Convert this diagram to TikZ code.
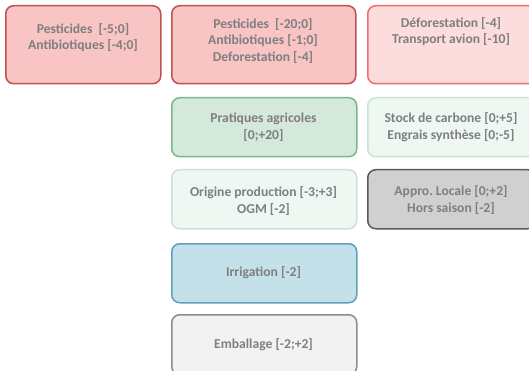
\documentclass[tikz,border=0pt]{standalone}
\usepackage{fontspec}
\setmainfont{Carlito}
\frenchspacing
\definecolor{txtgray}{RGB}{127,127,127}
\definecolor{redfill}{RGB}{248,196,196}
\definecolor{reddraw}{RGB}{192,80,82}
\definecolor{pinkfill}{RGB}{252,220,220}
\definecolor{pinkdraw}{RGB}{240,108,110}
\definecolor{greenfill}{RGB}{213,232,220}
\definecolor{greendraw}{RGB}{122,182,142}
\definecolor{palefill}{RGB}{238,247,241}
\definecolor{paledraw}{RGB}{198,230,210}
\definecolor{grayfill}{RGB}{208,208,208}
\definecolor{graydraw}{RGB}{90,90,90}
\definecolor{bluefill}{RGB}{196,224,232}
\definecolor{bluedraw}{RGB}{92,162,190}
\definecolor{wrapfill}{RGB}{242,242,242}
\definecolor{wrapdraw}{RGB}{140,140,140}
\tikzset{
  box/.style={rectangle,rounded corners=8pt,line width=1.5pt,anchor=north west,inner sep=0pt},
  txt/.style={font=\fontsize{13.6}{16.5}\selectfont\bfseries,text=txtgray,align=center,inner sep=0pt},
}

\begin{document}
\begin{tikzpicture}[x=1pt,y=-1pt,line join=round]
  \def\hA{78}
  \def\hB{59}
  \useasboundingbox (0,0) rectangle (529,371);
  \clip (0,0) rectangle (529,371);
  % first row
  \node[box,fill=redfill,draw=reddraw,minimum width=155pt,minimum height=\hA pt] (pestbio) at (5,5) {};
  \node[box,fill=redfill,draw=reddraw,minimum width=184pt,minimum height=\hA pt] (pestdefo) at (171,5) {};
  \node[box,fill=pinkfill,draw=pinkdraw,minimum width=168pt,minimum height=\hA pt] (avion) at (367,5) {};
  \node[txt] (pestbio-t) at (83,37.5) {Pesticides\ \ [-5;0]\\Antibiotiques [-4;0]};
  \node[txt] (pestdefo-t) at (263,41) {Pesticides\ \ [-20;0]\\Antibiotiques [-1;0]\\Deforestation [-4]};
  \node[txt] (avion-t) at (451,31.5) {Déforestation [-4]\\Transport avion [-10]};
  % left column
  \node[box,fill=greenfill,draw=greendraw,minimum width=185pt,minimum height=\hB pt] (pratiques) at (171,97) {};
  \node[box,fill=palefill,draw=paledraw,minimum width=185pt,minimum height=\hB pt] (origine) at (171,169) {};
  \node[box,fill=bluefill,draw=bluedraw,minimum width=185pt,minimum height=\hB pt] (irrigation) at (171,243) {};
  \node[box,fill=wrapfill,draw=wrapdraw,minimum width=185pt,minimum height=60pt] (emballage) at (171,314) {};
  \node[txt] (pratiques-t) at (263.5,127) {Pratiques agricoles\\{}[0;+20]};
  \node[txt] (origine-t) at (263.5,201) {Origine production [-3;+3]\\OGM [-2]};
  \node[txt] (irrigation-t) at (263.5,273) {Irrigation [-2]};
  \node[txt] (emballage-t) at (263.5,345) {Emballage [-2;+2]};
  % right column
  \node[box,fill=palefill,draw=paledraw,minimum width=168pt,minimum height=\hB pt] (carbone) at (367,97) {};
  \node[box,fill=grayfill,draw=graydraw,minimum width=168pt,minimum height=\hB pt] (appro) at (367,169) {};
  \node[txt] (carbone-t) at (451,127) {Stock de carbone [0;+5]\\Engrais synthèse [0;-5]};
  \node[txt] (appro-t) at (451,200) {Appro. Locale [0;+2]\\Hors saison [-2]};
\end{tikzpicture}
\end{document}
